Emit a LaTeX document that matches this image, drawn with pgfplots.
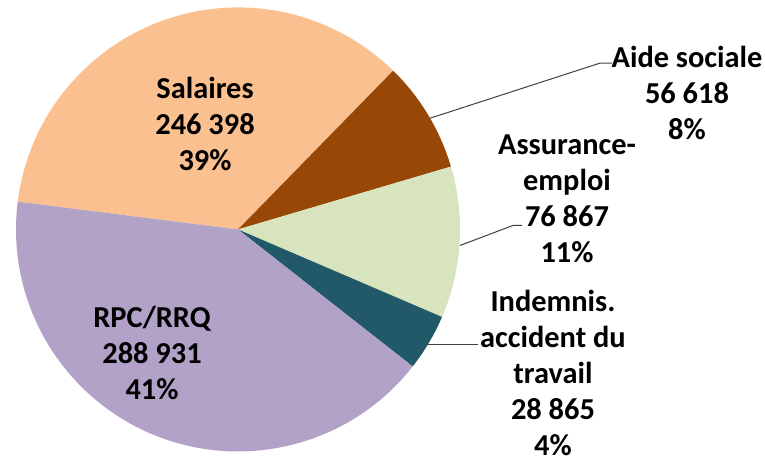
\documentclass[border=0pt]{standalone}
\usepackage{pgfplots}
\pgfplotsset{compat=1.18}
\usepackage{pgfplotstable}
\usepackage{fontspec}
\setmainfont{Carlito}
\definecolor{cSal}{RGB}{250,192,144}
\definecolor{cAid}{RGB}{152,72,6}
\definecolor{cAss}{RGB}{215,228,189}
\definecolor{cInd}{RGB}{33,89,104}
\definecolor{cRpc}{RGB}{179,162,199}
\pgfplotstableread{
name value
Salaires 246398
Aide 56618
Assurance 76867
Indemnis 28865
RPC 288931
}\piedata
\pgfplotstablegetelem{0}{value}\of\piedata \edef\vA{\pgfplotsretval}
\pgfplotstablegetelem{1}{value}\of\piedata \edef\vB{\pgfplotsretval}
\pgfplotstablegetelem{2}{value}\of\piedata \edef\vC{\pgfplotsretval}
\pgfplotstablegetelem{3}{value}\of\piedata \edef\vD{\pgfplotsretval}
\pgfplotstablegetelem{4}{value}\of\piedata \edef\vE{\pgfplotsretval}
\edef\tot{\fpeval{\vA+\vB+\vC+\vD+\vE}}
\edef\aZ{172.8}
\edef\aA{\fpeval{round(\aZ-360*\vA/\tot,3)}}
\edef\aB{\fpeval{round(\aA-360*\vB/\tot,3)}}
\edef\aC{\fpeval{round(\aB-360*\vC/\tot,3)}}
\edef\aD{\fpeval{round(\aC-360*\vD/\tot,3)}}
\edef\aE{\fpeval{round(\aD-360*\vE/\tot,3)}}
\begin{document}
\begin{tikzpicture}
\begin{axis}[name=ax,width=382.5pt,height=228.5pt,scale only axis,
  xmin=0,xmax=765,ymin=0,ymax=457,hide axis,clip=false]
\addplot[draw=none] coordinates {(0,0) (765,457)};
\fill[cSal] (axis cs:238,228) -- ++(\aZ:111pt) arc[start angle=\aZ,end angle=\aA,radius=111pt] -- cycle;
\fill[cAid] (axis cs:238,228) -- ++(\aA:111pt) arc[start angle=\aA,end angle=\aB,radius=111pt] -- cycle;
\fill[cAss] (axis cs:238,228) -- ++(\aB:111pt) arc[start angle=\aB,end angle=\aC,radius=111pt] -- cycle;
\fill[cInd] (axis cs:238,228) -- ++(\aC:111pt) arc[start angle=\aC,end angle=\aD,radius=111pt] -- cycle;
\fill[cRpc] (axis cs:238,228) -- ++(\aD:111pt) arc[start angle=\aD,end angle=\aE,radius=111pt] -- cycle;
\draw[black!75,line width=0.5pt] (axis cs:430,339) -- (axis cs:600,394) -- (axis cs:612,394);
\draw[black!75,line width=0.5pt] (axis cs:460,212) -- (axis cs:513,232) -- (axis cs:522,232);
\draw[black!75,line width=0.5pt] (axis cs:427,113) -- (axis cs:478,113);
\tikzset{lbl/.style={align=center,inner sep=0pt,font=\fontsize{15.2}{18}\selectfont\bfseries}}
\node[lbl] at (axis cs:205,333) {Salaires\\246 398\\39\%};
\node[lbl] at (axis cs:152,105) {RPC/RRQ\\288 931\\41\%};
\node[lbl] at (axis cs:687,364) {Aide sociale\\56 618\\8\%};
\node[lbl] at (axis cs:567,259) {Assurance-\\emploi\\76 867\\11\%};
\node[lbl] at (axis cs:553,85) {Indemnis.\\accident du\\travail\\28 865\\4\%};
\end{axis}
\pgfresetboundingbox
\path[use as bounding box] (ax.south west) rectangle (ax.north east);
\end{tikzpicture}
\end{document}
